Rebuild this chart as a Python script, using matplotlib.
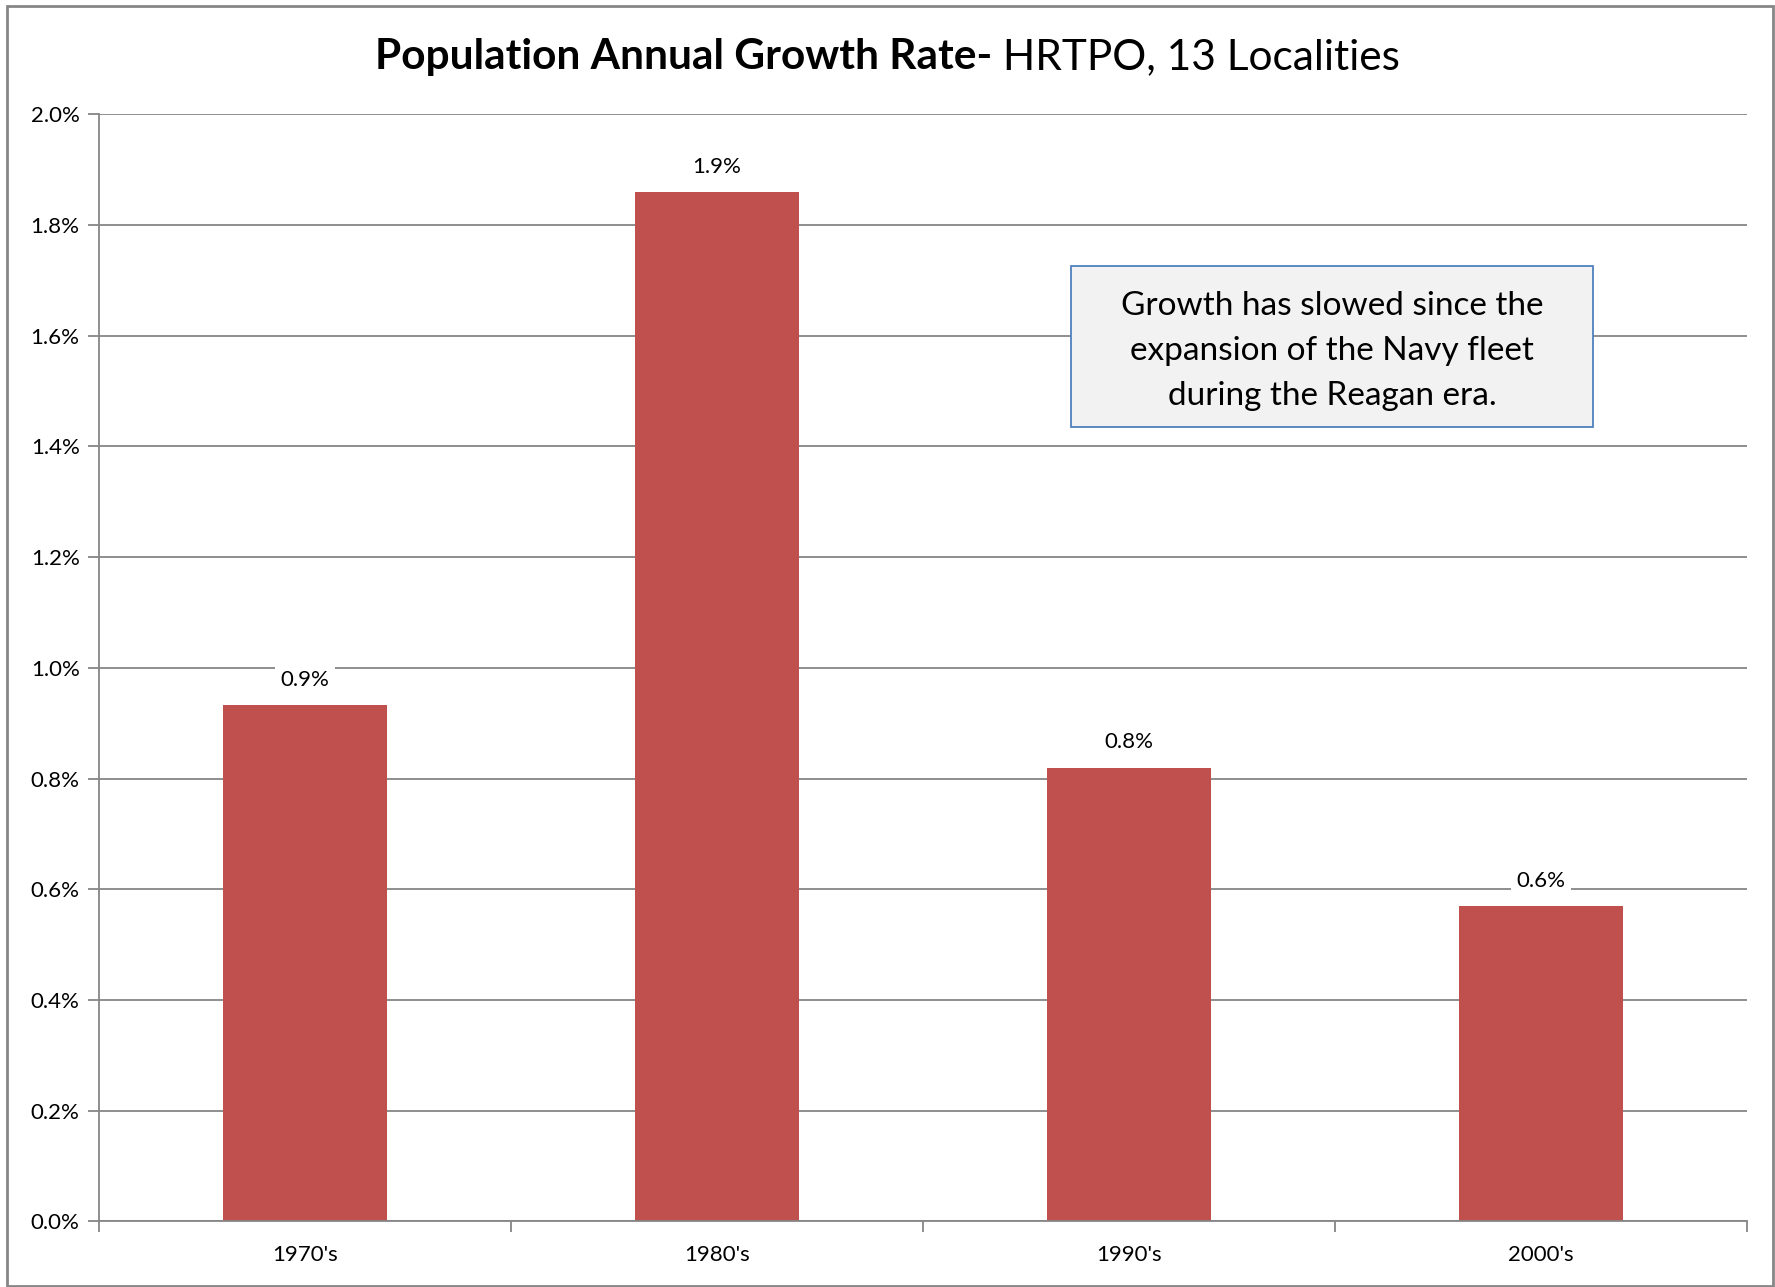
import matplotlib.pyplot as plt
from matplotlib.patches import Rectangle
from matplotlib.ticker import FuncFormatter

# data
decades = ["1970's", "1980's", "1990's", "2000's"]
growth_rate = [0.933, 1.86, 0.82, 0.569]  # percent per year
y_ticks = [0.0, 0.2, 0.4, 0.6, 0.8, 1.0, 1.2, 1.4, 1.6, 1.8, 2.0]
note = "Growth has slowed since the\nexpansion of the Navy fleet\nduring the Reagan era."

plt.rcParams["font.family"] = ["Lato", "DejaVu Sans"]

BAR_RED = "#C0504D"
GRID_GREY = "#868686"

fig = plt.figure(figsize=(17.75, 12.87), dpi=100)
ax = fig.add_axes([0.0558, 0.0509, 0.9284, 0.8603])

x = range(len(decades))
bars = ax.bar(x, growth_rate, width=0.4, color=BAR_RED, zorder=2)

# data labels with white background that cuts the gridlines
for rect, val in zip(bars, growth_rate):
    ax.annotate(
        f"{val:.1f}%",
        xy=(rect.get_x() + rect.get_width() / 2, rect.get_height()),
        xytext=(0, 11),
        textcoords="offset points",
        ha="center",
        va="bottom",
        fontsize=16,
        bbox=dict(boxstyle="square,pad=0.25", fc="white", ec="none"),
        zorder=3,
    )

ax.set_xlim(-0.5, len(decades) - 0.5)
ax.set_ylim(0, 2.0)
ax.set_yticks(y_ticks)
ax.yaxis.set_major_formatter(FuncFormatter(lambda v, _: f"{v:.1f}%"))
ax.yaxis.grid(True, color=GRID_GREY, linewidth=1.3, zorder=0)
ax.set_axisbelow(True)

# category ticks sit at the boundaries, labels at the centres
ax.set_xticks([i - 0.5 for i in range(len(decades) + 1)])
ax.set_xticklabels([])
ax.set_xticks(list(x), minor=True)
ax.set_xticklabels(decades, minor=True, fontsize=16)
ax.tick_params(axis="x", which="minor", length=0, pad=17)
ax.tick_params(axis="x", which="major", length=8, width=1.3, color=GRID_GREY)
ax.tick_params(axis="y", length=8, width=1.3, color=GRID_GREY, labelsize=16, pad=6)

for side in ["top", "right"]:
    ax.spines[side].set_visible(False)
for side in ["left", "bottom"]:
    ax.spines[side].set_color(GRID_GREY)
    ax.spines[side].set_linewidth(1.3)

# annotation box
ax.add_patch(
    Rectangle((0.590, 0.7176), 0.3166, 0.1454, transform=ax.transAxes,
              facecolor="#F2F2F2", edgecolor="#4F81BD", linewidth=1.3, zorder=4)
)
ax.text(0.7483, 0.7865, note, transform=ax.transAxes, ha="center", va="center",
        fontsize=24, linespacing=1.62, zorder=5)

# title: bold part + regular part
t1 = fig.text(0.5, 0.9555, "Population Annual Growth Rate-", fontsize=30.5,
              fontweight="bold", ha="right", va="center")
t2 = fig.text(0.5, 0.9555, " HRTPO, 13 Localities", fontsize=30.5, ha="left", va="center")
# shift both pieces so the whole title is centred
fig.canvas.draw()
r = fig.canvas.get_renderer()
w1 = t1.get_window_extent(r).width
w2 = t2.get_window_extent(r).width
shift = (w1 - w2) / 2 / fig.bbox.width
for t in (t1, t2):
    xx, yy = t.get_position()
    t.set_position((xx + shift, yy))

# outer chart border
fig.add_artist(Rectangle((7 / 1775, 1 / 1287), 1766 / 1775, 1280 / 1287,
                         transform=fig.transFigure, fill=False,
                         edgecolor=GRID_GREY, linewidth=2))

fig.savefig("out.png", dpi=100)
